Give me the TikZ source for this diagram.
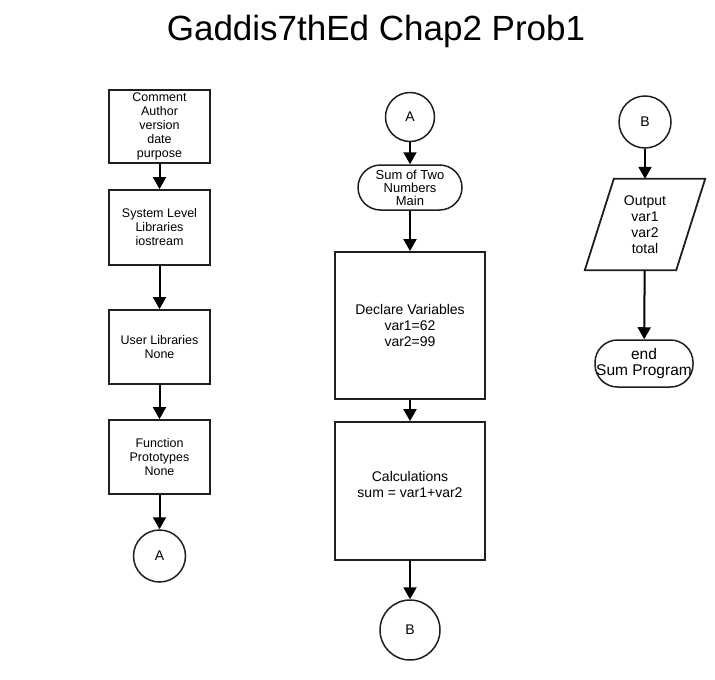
\documentclass[tikz,border=0pt]{standalone}
\usepackage{fontspec}
\setmainfont{Liberation Sans}
\usetikzlibrary{arrows.meta}
\begin{document}
\begin{tikzpicture}[x=1pt,y=-1pt,
  boxline/.style={draw=black!88, line width=1.8pt},
  box/.style={boxline, align=center, inner sep=0pt},
  leftbox/.style={box, minimum width=101pt, font=\fontsize{12.5}{14}\selectfont},
  midbox/.style={box, minimum width=150pt, font=\fontsize{14}{16}\selectfont},
  midtext/.style={align=center, inner sep=0pt, font=\fontsize{14}{16}\selectfont},
  conn/.style={circle, draw=black!88, line width=1.5pt, inner sep=0pt, font=\fontsize{14}{16}\selectfont},
  term/.style={box, line width=1.5pt, rounded corners=22.5pt},
  iobody/.style={align=center, inner sep=0pt, font=\fontsize{14}{16}\selectfont},
  flow/.style={line width=2pt, draw=black, -{Triangle[width=13pt,length=12pt]}}
]
\useasboundingbox (0,0) rectangle (715,680);

% title
\node[anchor=base, inner sep=0pt, font=\fontsize{35}{40}\selectfont] (title) at (376,40) {Gaddis7thEd Chap2 Prob1};

% left column: program header
\node[leftbox, minimum height=73pt] (hdr) at (159.5,126.5) {Comment\\Author\\version\\date\\purpose};
\node[leftbox, minimum height=75pt] (syslib) at (159.5,227.5) {System Level\\Libraries\\iostream};
\node[leftbox, minimum height=74pt] (usrlib) at (159.5,347) {User Libraries\\None};
\node[leftbox, minimum height=74pt] (proto) at (159.5,457) {Function\\Prototypes\\None};
\node[conn, minimum size=52pt] (a1) at (159.5,556) {A};

\draw[flow] (hdr) -- (syslib);
\draw[flow] (syslib) -- (usrlib);
\draw[flow] (usrlib) -- (proto);
\draw[flow] (proto) -- (a1);

% middle column: main
\node[conn, minimum size=49pt] (a2) at (410,117) {A};
\node[term, minimum width=104pt, minimum height=45pt, font=\fontsize{13}{13}\selectfont] (main) at (410,187.5) {Sum of Two\\Numbers\\Main};
\node[midbox, minimum height=147pt] (decl) at (410,325.5) {Declare Variables\\var1=62\\var2=99};
\node[midbox, minimum height=138pt] (calc) at (410,491) {};
\node[midtext] (calctext) at (410,484) {Calculations\\sum = var1+var2};
\node[conn, minimum size=60pt] (b1) at (410,630) {B};

\draw[flow] (a2) -- (main);
\draw[flow] (main) -- (decl);
\draw[flow] (decl) -- (calc);
\draw[flow] (calc) -- (b1);

% right column: output (parallelogram around a 91x91 body) and end
\node[conn, minimum size=52pt] (b2) at (645,122) {B};
\node[iobody, minimum width=91pt, minimum height=91pt] (outp) at (645,224.5) {Output\\var1\\var2\\total};
\draw[boxline, line join=miter]
  ([xshift=-14.5pt]outp.south west) -- ([xshift=14.5pt]outp.north west)
  -- ([xshift=14.5pt]outp.north east) -- ([xshift=-14.5pt]outp.south east) -- cycle;
\node[term, minimum width=98pt, minimum height=47pt, font=\fontsize{15.5}{16}\selectfont] (fin) at (644,363.5) {end\\Sum Program};

\draw[flow] (b2) -- (outp);
\draw[flow] (outp) -- (fin);
\end{tikzpicture}
\end{document}
